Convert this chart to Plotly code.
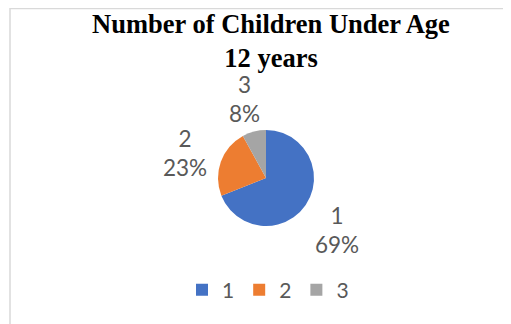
import math
import plotly.graph_objects as go

categories = ["1", "2", "3"]
values = [69, 23, 8]
colors = ["#4472C4", "#ED7D31", "#A5A5A5"]
title_text = "Number of Children Under Age<br>12 years"

# the page adds an 8px body margin, so the figure is sized to the remaining area
OFF = 8
W, H = 511 - OFF, 324 - OFF
cx, cy, r = 266 - OFF, 178 - OFF, 48
label_dist = 86


def px(x):
    return x / W


def py(y):
    return 1 - y / H


fig = go.Figure(go.Pie(
    labels=categories,
    values=values,
    sort=False,
    direction="clockwise",
    rotation=0,
    marker=dict(colors=colors, line=dict(width=0)),
    textinfo="none",
    automargin=False,
    domain=dict(x=[px(cx - r), px(cx + r)], y=[py(cy + r), py(cy - r)]),
    showlegend=True,
    hoverinfo="label+percent",
))

# data labels placed outside each slice, at the slice's mid-angle
total = sum(values)
annotations = []
cum = 0
for lab, v in zip(categories, values):
    mid = (cum + v / 2) / total * 2 * math.pi
    cum += v
    lx = cx + label_dist * math.sin(mid)
    ly = cy - label_dist * math.cos(mid) + 4
    annotations.append(dict(
        x=px(lx), y=py(ly), xref="paper", yref="paper",
        text=f"{lab}<br>{round(v / total * 100)}%", showarrow=False,
        xanchor="center", yanchor="middle", align="center",
        font=dict(family="Lato", size=22.5, color="#595959"),
    ))

fig.update_layout(
    width=W, height=H,
    margin=dict(l=0, r=0, t=0, b=0),
    paper_bgcolor="white",
    title=dict(text=title_text, x=px(271 - OFF), xanchor="center", y=py(33 - OFF), yanchor="middle",
               font=dict(family="Liberation Serif", size=26.5, color="black", weight="bold")),
    legend=dict(orientation="h", x=px(268 - OFF), xanchor="center", y=py(290 - OFF), yanchor="middle",
                font=dict(family="Lato", size=21, color="#595959"),
                itemwidth=30, traceorder="normal"),
    annotations=annotations,
    shapes=[
        dict(type="line", xref="paper", yref="paper", x0=px(10 - OFF), x1=px(10 - OFF), y0=0, y1=1,
             line=dict(color="#D9D9D9", width=1.5)),
        dict(type="line", xref="paper", yref="paper", x0=px(10 - OFF), x1=1, y0=py(0.5), y1=py(0.5),
             line=dict(color="#D9D9D9", width=1.5)),
    ],
)

fig.write_html("out.html")
